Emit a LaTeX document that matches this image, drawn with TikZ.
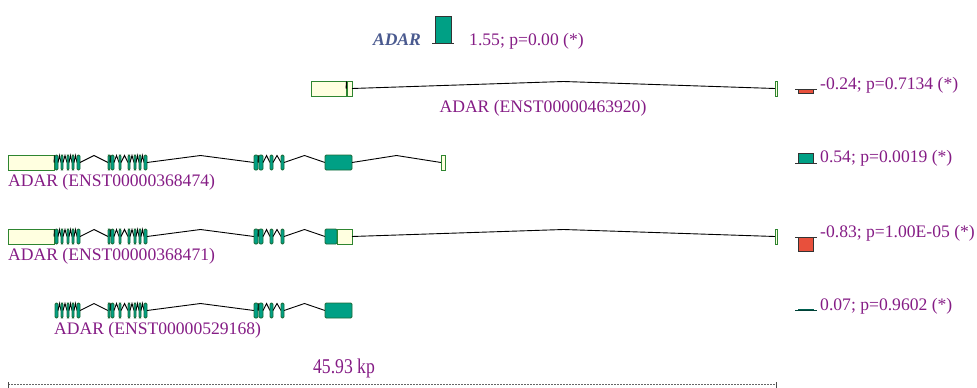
\documentclass[tikz,border=0pt]{standalone}
\usepackage{fontspec}
\setmainfont{Liberation Serif}
\definecolor{teal1}{HTML}{00A085}
\definecolor{exb}{HTML}{1E6B3A}
\definecolor{utrf}{HTML}{FFFFE0}
\definecolor{utrb}{HTML}{2E8530}
\definecolor{redb}{HTML}{E8503C}
\definecolor{purp}{HTML}{851C85}
\definecolor{hdr}{HTML}{4A5A8F}
\tikzset{
  exon/.style={fill=teal1,draw=exb,line width=0.9pt,rounded corners=1.2pt},
  utr/.style={fill=utrf,draw=utrb,line width=0.9pt},
  intron/.style={draw=black,line width=0.9pt},
  lbl/.style={text=purp,font=\fontsize{17.6}{20}\selectfont,inner sep=0pt},
  barbox/.style={draw=black!80,line width=0.8pt},
  baseln/.style={draw=black!80,line width=1pt}
}
\newcommand{\gxIntron}[3]{\draw[intron] (#1,#3) -- ({(#1+#2)/2},{#3-7}) -- (#2,#3);}
\newcommand{\gxExon}[4]{\draw[#1] (#2,{#4-7.5}) rectangle (#3,{#4+7.5});}
\newcommand{\gxChain}[2]{%
  \gdef\gxPrev{}%
  \foreach \a/\b/\s in {#2} {%
    \ifx\gxPrev\empty\else
      \ifdim\a pt=\gxPrev pt\else\gxIntron{\gxPrev}{\a}{#1}\fi
    \fi
    \gxExon{\s}{\a}{\b}{#1}%
    \xdef\gxPrev{\b}%
  }}
\def\gxCore{55/58/exon,61/63/exon,67/69/exon,72/74/exon,77/80/exon,108/110/exon,111/114/exon,119/121/exon,128/130/exon,134/136/exon,139/141/exon,144/147/exon,254/258/exon,259/263/exon,270/273/exon,281/284/exon}
\begin{document}
\begin{tikzpicture}[x=1pt,y=-1pt]
\useasboundingbox (0,0) rectangle (977,388);
% header
\node[lbl,text=hdr,font=\fontsize{17.6}{20}\selectfont\bfseries\itshape,anchor=base] (hname) at (397,45) {ADAR};
\draw[barbox,fill=teal1] (435,16) rectangle (451,43);
\coordinate (hb1) at (432,43); \coordinate (hb2) at (454,43);
\draw[baseln] (hb1) -- (hb2);
\node[lbl,anchor=base west] (hval) at (469,45) {1.55; p=0.00 (*)};
% row 1
\gxChain{88.5}{311/346/utr,347/352/utr,775/777/utr}
\node[lbl,anchor=base] (l1) at (543,112) {ADAR (ENST00000463920)};
% row 2
\edef\tmp{\noexpand\gxChain{162.5}{8/54/utr,\gxCore,325/352/exon,441/445/utr}}\tmp
\node[lbl,anchor=base west] (l2) at (8,186.5) {ADAR (ENST00000368474)};
% row 3
\edef\tmp{\noexpand\gxChain{236.5}{8/54/utr,\gxCore,325/337/exon,337/352/utr,775/777/utr}}\tmp
\node[lbl,anchor=base west] (l3) at (8,260.5) {ADAR (ENST00000368471)};
% row 4
\edef\tmp{\noexpand\gxChain{310.5}{\gxCore,325/352/exon}}\tmp
\node[lbl,anchor=base west] (l4) at (54,334.5) {ADAR (ENST00000529168)};
% right bars
\draw[barbox,fill=redb] (798,89) rectangle (813,93);
\coordinate (b1a) at (795,89); \coordinate (b1b) at (817,89);
\draw[baseln] (b1a) -- (b1b);
\node[lbl,anchor=base west] (v1) at (820,89) {-0.24; p=0.7134 (*)};
\draw[barbox,fill=teal1] (798,153.6) rectangle (813,163);
\coordinate (b2a) at (795,163); \coordinate (b2b) at (817,163);
\draw[baseln] (b2a) -- (b2b);
\node[lbl,anchor=base west] (v2) at (820,162) {0.54; p=0.0019 (*)};
\draw[barbox,fill=redb] (798,237) rectangle (813,251.4);
\coordinate (b3a) at (795,237); \coordinate (b3b) at (817,237);
\draw[baseln] (b3a) -- (b3b);
\node[lbl,anchor=base west] (v3) at (820,237) {-0.83; p=1.00E-05 (*)};
\draw[draw=teal1!60!black,fill=teal1,line width=0.6pt] (798,308.8) rectangle (813,310);
\coordinate (b4a) at (795,310); \coordinate (b4b) at (817,310);
\draw[baseln,draw=teal1!40!black] (b4a) -- (b4b);
\node[lbl,anchor=base west] (v4) at (820,310) {0.07; p=0.9602 (*)};
% scale bar
\coordinate (sL) at (8,384); \coordinate (sR) at (776,384);
\draw[black!60,line width=0.8pt,dash pattern=on 2pt off 1pt] (sL) -- (sR);
\draw[black!70,line width=0.9pt] ([yshift=-6pt]sL) -- ([yshift=2.5pt]sL);
\draw[black!70,line width=0.9pt] ([yshift=-6pt]sR) -- ([yshift=2.5pt]sR);
\node[lbl,anchor=base,xscale=0.84,font=\fontsize{21}{22}\selectfont] (sc) at (344,373) {45.93 kp};
\end{tikzpicture}
\end{document}
